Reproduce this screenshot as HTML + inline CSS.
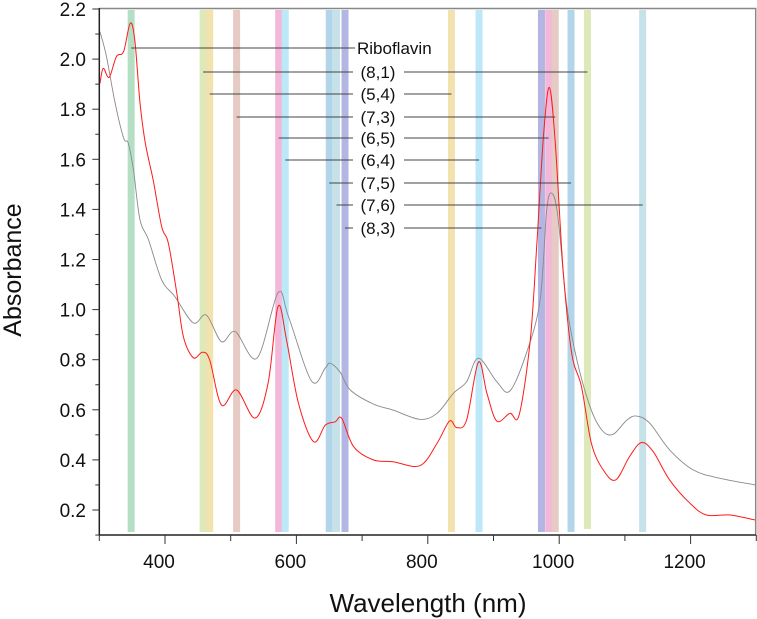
<!DOCTYPE html>
<html><head><meta charset="utf-8"><style>
body{margin:0;background:#fff}
svg{display:block;font-family:"Liberation Sans",sans-serif}
</style></head><body>
<svg id="chart" width="757" height="619" viewBox="0 0 757 619" xmlns="http://www.w3.org/2000/svg">
<g id="bands"></g>
<g id="curves"></g>
<g id="labels"></g>
<g id="axes"></g>
</svg>
<script>
const bandNm=[348.5,458,468,509,573,583,650,661,674,836,878,973,984,994,1018,1043,1127];
const bandColors=['#b5dfc4','#dde9b8','#f2e2ae','#e5cbc3','#f3b8d9','#bde8f8','#b3d5ea','#c6e2e8','#b3b6e3','#f2e2ae','#bde8f8','#b3b6e3','#f3b8d9','#e5cbc3','#b3d5ea','#dde9b8','#c6e2e8'];
const labelNames=['Riboflavin','(8,1)','(5,4)','(7,3)','(6,5)','(6,4)','(7,5)','(7,6)','(8,3)'];
const labelLeftNm=[348.5,458,468,509,573,583,650,661,674];
const labelRightNm=[null,1043,836,994,984,878,1018,1127,973];
const redNm=[301,306,315,326,337,347,354,362,370,382,395,405,418,428,443,457,468,486,509,537,557,572,585,603,626,644,659,669,687,717,747,788,814,833,844,859,877,890,905,925,939,956,966,976,985,994,1006,1019,1034,1049,1067,1086,1107,1125,1143,1168,1199,1224,1260,1298];
const redAbs=[1.903,1.963,1.927,2.010,2.030,2.143,2.076,1.825,1.665,1.517,1.331,1.266,1.066,0.892,0.808,0.830,0.799,0.619,0.679,0.567,0.707,1.012,0.879,0.627,0.473,0.539,0.552,0.566,0.453,0.400,0.393,0.377,0.466,0.555,0.529,0.559,0.790,0.666,0.555,0.586,0.579,0.879,1.266,1.690,1.887,1.664,1.158,0.826,0.692,0.466,0.360,0.320,0.413,0.469,0.433,0.320,0.227,0.180,0.180,0.160];
const grayNm=[301,311,324,337,344,352,362,375,395,415,443,463,486,507,540,572,588,623,644,651,666,682,717,747,788,814,839,859,877,905,925,950,971,981,989,998,1011,1027,1047,1065,1082,1103,1118,1138,1168,1204,1244,1298];
const grayAbs=[2.109,2.010,1.825,1.685,1.665,1.557,1.358,1.278,1.118,1.052,0.947,0.978,0.872,0.912,0.806,1.067,0.972,0.715,0.767,0.786,0.752,0.679,0.623,0.599,0.562,0.586,0.666,0.712,0.806,0.712,0.675,0.826,1.038,1.398,1.464,1.371,1.025,0.799,0.612,0.519,0.502,0.559,0.575,0.546,0.440,0.360,0.327,0.300];
const xTicks=[400,600,800,1000,1200];
const yTicks=[0.2,0.4,0.6,0.8,1.0,1.2,1.4,1.6,1.8,2.0,2.2];

const X0=99.3,PX=0.657,NM0=300,NM1=1300;
const xs=nm=>X0+(nm-NM0)*PX;
const ys=v=>510-(v-0.2)*250.5;
const NS='http://www.w3.org/2000/svg';
function mk(tag,attrs,parent){const e=document.createElementNS(NS,tag);for(const k in attrs)e.setAttribute(k,attrs[k]);parent.appendChild(e);return e;}
const bands=document.getElementById('bands');
bandNm.forEach((nm,i)=>{
  const r=mk('rect',{x:xs(nm)-3.5,y:10,width:7,height:i===15?519:522,fill:bandColors[i]},bands);
  
  
});
function pathFor(nx,vy){
  const p=nx.map((n,i)=>[xs(n),ys(vy[i])]);
  let d='M'+p[0][0].toFixed(1)+','+p[0][1].toFixed(1);
  for(let i=0;i<p.length-1;i++){
    const p0=p[Math.max(0,i-1)],p1=p[i],p2=p[i+1],p3=p[Math.min(p.length-1,i+2)];
    const c1=[p1[0]+(p2[0]-p0[0])/6,p1[1]+(p2[1]-p0[1])/6];
    const c2=[p2[0]-(p3[0]-p1[0])/6,p2[1]-(p3[1]-p1[1])/6];
    d+='C'+c1.map(v=>v.toFixed(1))+' '+c2.map(v=>v.toFixed(1))+' '+p2.map(v=>v.toFixed(1));
  }
  return d;
}
const curves=document.getElementById('curves');
const g=mk('path',{d:pathFor(grayNm,grayAbs),fill:'none',stroke:'#8a8a8a','stroke-width':0.9},curves);


const r=mk('path',{d:pathFor(redNm,redAbs),fill:'none',stroke:'#ff1a1a','stroke-width':1},curves);



const labels=document.getElementById('labels');
const labelY=[48,72,94,117,138,160,183,205,228];
labelNames.forEach((nm,i)=>{
  const y=labelY[i];
  const x1=xs(labelLeftNm[i]);
  const x2=labelRightNm[i]===null?355:xs(labelRightNm[i]);
  const l=mk('line',{x1:x1,y1:y,x2:x2,y2:y,stroke:'#444','stroke-width':1},labels);
  
  
  if(i>0){
    const bg=mk('rect',{x:353,y:y-10,width:51,height:20,fill:'#fff'},labels);
    
    
  }
  const t=mk('text',{x:i===0?357:378,y:y+6,'font-size':17,fill:'#111','text-anchor':i===0?'start':'middle'},labels);
  t.textContent=nm;
  
  
});

const axes=document.getElementById('axes');
const frame=mk('path',{d:'M'+X0+',8.5H755.7V535',fill:'none',stroke:'#888','stroke-width':1.5},axes);


const xa=mk('line',{x1:X0,y1:535,x2:756,y2:535,stroke:'#222','stroke-width':1.5},axes);


const ya=mk('line',{x1:X0,y1:8,x2:X0,y2:535,stroke:'#222','stroke-width':1.5},axes);


for(let nm=NM0;nm<=NM1;nm+=100){
  const major=xTicks.includes(nm);
  const t=mk('line',{x1:xs(nm),y1:535,x2:xs(nm),y2:535+(major?9:6),stroke:'#333','stroke-width':1},axes);
  
  
}
xTicks.forEach(nm=>{
  const t=mk('text',{x:xs(nm)-6,y:568,'font-size':19,'text-anchor':'middle',fill:'#111'},axes);
  t.textContent=nm;
  
  
});
for(let k=1;k<=22;k++){
  const v=k/10;
  const t=mk('line',{x1:X0,y1:ys(v),x2:X0-(k%2===0?7:4),y2:ys(v),stroke:'#333','stroke-width':1},axes);
  
  
}
yTicks.forEach(v=>{
  const t=mk('text',{x:86,y:ys(v)+7,'font-size':19,'text-anchor':'end',fill:'#111'},axes);
  t.textContent=v.toFixed(1);
  
  
});
const xt=mk('text',{x:428,y:612,'font-size':26,'text-anchor':'middle',fill:'#111'},axes);
xt.textContent='Wavelength (nm)';


const yt=mk('text',{x:0,y:0,'font-size':25,'text-anchor':'middle',fill:'#111',transform:'translate(21,270) rotate(-90)'},axes);
yt.textContent='Absorbance';


</script>
</body></html>
